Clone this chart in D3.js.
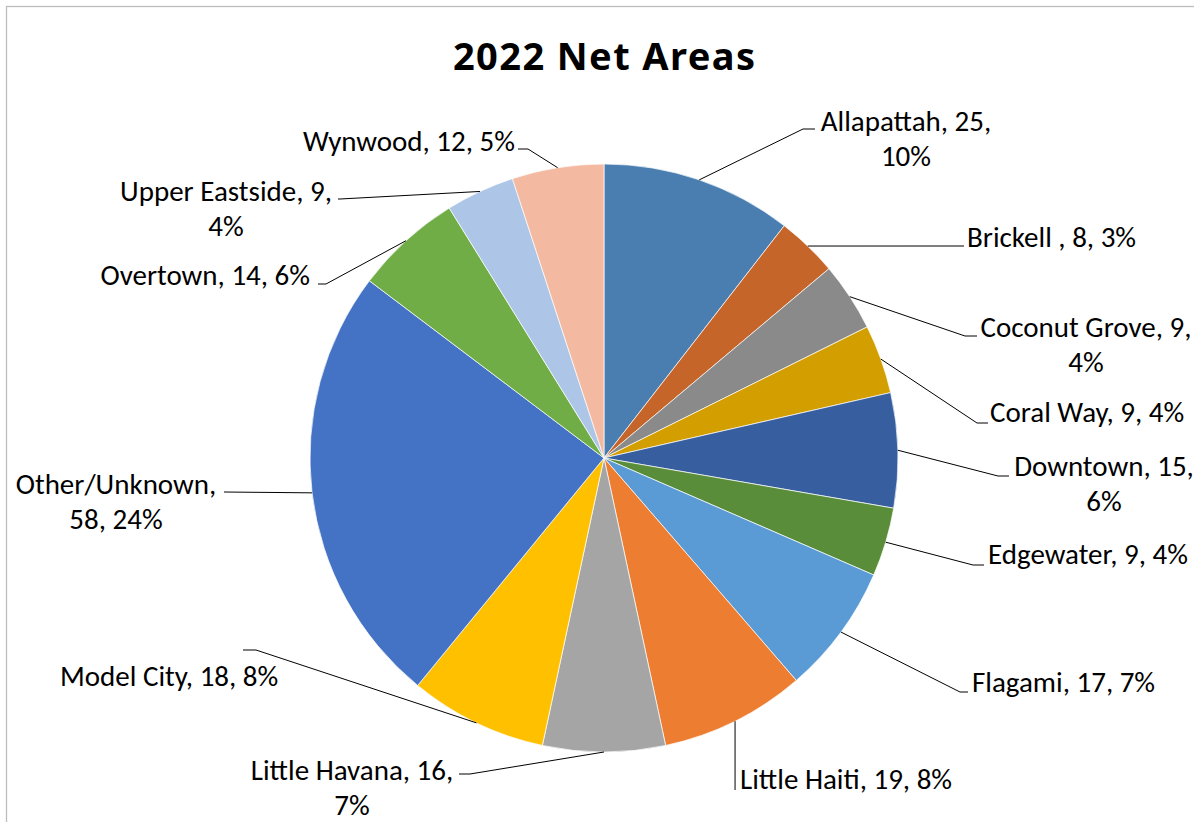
<!DOCTYPE html>
<html>
<head>
<meta charset="utf-8">
<script src="https://cdn.jsdelivr.net/npm/d3@7"></script>
<style>
  html, body { margin: 0; padding: 0; background: #fff; }
  svg { display: block; }
  text { font-family: Carlito, Calibri, Lato, "Noto Sans", sans-serif; fill: #000; }
  text.title { font-family: "Noto Sans", "Open Sans", sans-serif; }
</style>
</head>
<body>
<svg id="chart" width="1194" height="822"></svg>
<script>
// ---- data ----
const title = "2022 Net Areas";
const categories = ["Allapattah", "Brickell ", "Coconut Grove", "Coral Way", "Downtown", "Edgewater",
  "Flagami", "Little Haiti", "Little Havana", "Model City", "Other/Unknown", "Overtown",
  "Upper Eastside", "Wynwood"];
const values = [25, 8, 9, 9, 15, 9, 17, 19, 16, 18, 58, 14, 9, 12];
const percentLabels = ["10%", "3%", "4%", "4%", "6%", "4%", "7%", "8%", "7%", "8%", "24%", "6%", "4%", "5%"];
const colors = ["#4A7EB0", "#C5652A", "#8A8A8A", "#D29E00", "#375E9F", "#598D3A",
  "#5B9BD5", "#ED7D31", "#A5A5A5", "#FFC000", "#4472C4", "#70AD47", "#ADC5E6", "#F4B9A1"];

// ---- label layout (text anchor, line breaks, leader elbow/end) ----
const labelLayout = [
  { split: 2, tx: 906, ty: 131, anchor: "middle", elbow: [803, 129], end: [815, 129] },
  { split: 0, tx: 967, ty: 247, anchor: "start", elbow: null, end: [964, 246] },
  { split: 2, tx: 1086, ty: 337, anchor: "middle", elbow: [965, 336], end: [977, 336] },
  { split: 0, tx: 990, ty: 422, anchor: "start", elbow: [977, 423], end: [988, 423] },
  { split: 2, tx: 1104, ty: 476, anchor: "middle", elbow: [998, 476], end: [1009, 476] },
  { split: 0, tx: 988, ty: 564, anchor: "start", elbow: [973, 565], end: [984, 565] },
  { split: 0, tx: 972, ty: 692, anchor: "start", elbow: [960, 692], end: [968, 692] },
  { split: 0, tx: 740, ty: 789, anchor: "start", elbow: null, end: [null, 790] },
  { split: 2, tx: 352, ty: 780, anchor: "middle", elbow: [470, 774], end: [459, 774] },
  { split: 0, tx: 60, ty: 686, anchor: "start", elbow: [256, 650], end: [243, 650] },
  { split: 1, tx: 116, ty: 494, anchor: "middle", elbow: null, end: [224, 492] },
  { split: 0, tx: 310, ty: 285, anchor: "end", elbow: [326, 284], end: [318, 284] },
  { split: 2, tx: 226, ty: 201, anchor: "middle", elbow: [340, 199], end: [338, 199] },
  { split: 0, tx: 515, ty: 151, anchor: "end", elbow: [528, 149], end: [518, 149] }
];

const svg = d3.select("#chart");
const cx = 604, cy = 458, R = 294;
const labelSize = 29;
const lineGap = 35;
const titleWidth = 302;

// chart area border
svg.append("rect").attr("x", 6.5).attr("y", 6.5).attr("width", 1400).attr("height", 1200)
  .attr("fill", "#fff").attr("stroke", "#BDBDBD").attr("stroke-width", 1.3);

// title (fit to reference width)
const tt = svg.append("text").attr("class", "title").attr("x", cx).attr("y", 70).attr("text-anchor", "middle")
  .attr("font-size", 38).attr("font-weight", "bold").text(title);
const tw = tt.node().getComputedTextLength();
const ls = Math.max(-1.5, Math.min(1.5, (titleWidth - tw) / (title.length - 1)));
tt.attr("letter-spacing", ls).attr("x", cx + ls / 2);

const data = categories.map((c, i) => ({ name: c, value: values[i], pct: percentLabels[i], color: colors[i], layout: labelLayout[i] }));

const pie = d3.pie().value(d => d.value).sort(null);
const arcs = pie(data);
const arc = d3.arc().innerRadius(0).outerRadius(R);
const edgeArc = d3.arc().innerRadius(R).outerRadius(R);

const g = svg.append("g").attr("transform", `translate(${cx},${cy})`);
g.selectAll("path.slice").data(arcs).enter().append("path")
  .attr("class", "slice")
  .attr("d", arc)
  .attr("fill", d => d.data.color)
  .attr("stroke", "#fff").attr("stroke-width", 0.7).attr("stroke-linejoin", "round");

// leader lines
const lines = svg.append("g");
arcs.forEach(a => {
  const L = a.data.layout;
  const [sx0, sy0] = edgeArc.centroid(a);
  const sx = sx0 + cx, sy = sy0 + cy;
  const pts = [[sx, sy]];
  if (L.elbow) pts.push(L.elbow);
  const ex = L.end[0] === null ? sx : L.end[0];
  pts.push([ex, L.end[1]]);
  lines.append("path").attr("d", d3.line()(pts))
    .attr("fill", "none").attr("stroke", "#000").attr("stroke-width", 1);
});

// labels
const labels = svg.append("g");
arcs.forEach(a => {
  const d = a.data, L = d.layout;
  const parts = [d.name, String(d.value), d.pct];
  let rows;
  if (L.split === 0) rows = [parts.join(", ")];
  else if (L.split === 1) rows = [parts[0] + ",", parts[1] + ", " + parts[2]];
  else rows = [parts[0] + ", " + parts[1] + ",", parts[2]];
  const t = labels.append("text").attr("x", L.tx).attr("y", L.ty)
    .attr("text-anchor", L.anchor).attr("font-size", labelSize);
  rows.forEach((r, i) => {
    t.append("tspan").attr("x", L.tx).attr("y", L.ty + i * lineGap).text(r);
  });
});
</script>
</body>
</html>
